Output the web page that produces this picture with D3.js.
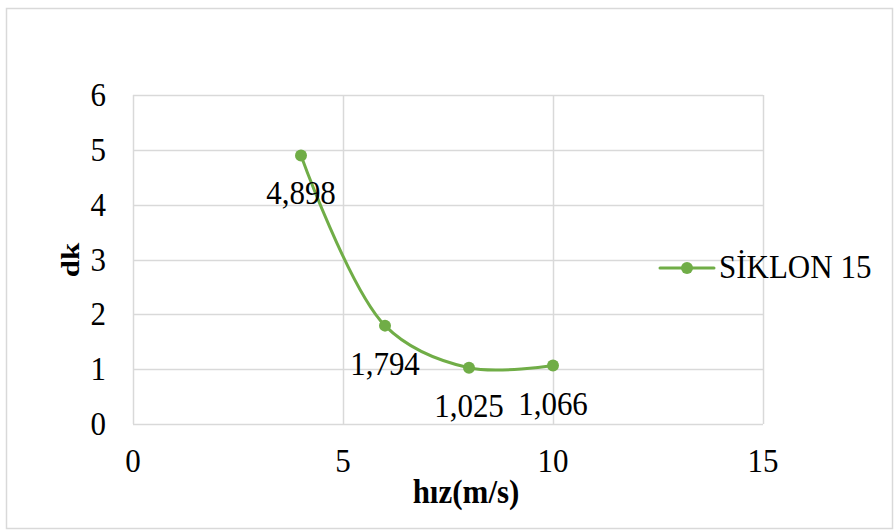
<!DOCTYPE html>
<html>
<head>
<meta charset="utf-8">
<script src="https://cdn.jsdelivr.net/npm/d3@7"></script>
<style>
  body { margin: 0; background: #fff; }
  text { font-family: "Liberation Serif", "Times New Roman", serif; }
</style>
</head>
<body>
<div id="chart"></div>
<script>
var w = 895;
var h = 531;

var speeds = [4, 6, 8, 10];
var dkValues = [4.898, 1.794, 1.025, 1.066];
var valueLabels = ["4,898", "1,794", "1,025", "1,066"];
var xTicks = [0, 5, 10, 15];
var yTicks = [0, 1, 2, 3, 4, 5, 6];
var seriesName = "SİKLON 15";

var green = "#70ad47";
var gridColor = "#d9d9d9";
var fontSize = 31;
var stretch = 1.12; // reference glyphs are a bit taller than wide

var plotLeft = 133, plotRight = 763, plotTop = 95, plotBottom = 424;

var xScale = d3.scaleLinear().domain([0, 15]).range([plotLeft, plotRight]);
var yScale = d3.scaleLinear().domain([0, 6]).range([plotBottom, plotTop]);

var svg = d3.select("#chart").append("svg").attr("width", w).attr("height", h);

function place(x, y) {
  return "translate(" + x + "," + y + ") scale(1," + stretch + ")";
}

// outer chart border
svg.append("rect")
  .attr("x", 6.5).attr("y", 8.5)
  .attr("width", 886).attr("height", 520)
  .attr("fill", "#fff")
  .attr("stroke", gridColor)
  .attr("stroke-width", 1.5);

// gridlines
svg.selectAll(".hgrid")
  .data(yTicks)
  .enter()
  .append("line")
  .attr("x1", plotLeft).attr("x2", plotRight)
  .attr("y1", function (d) { return Math.round(yScale(d)) + 0.5; })
  .attr("y2", function (d) { return Math.round(yScale(d)) + 0.5; })
  .attr("stroke", gridColor)
  .attr("stroke-width", 1.5);

svg.selectAll(".vgrid")
  .data(xTicks)
  .enter()
  .append("line")
  .attr("y1", plotTop).attr("y2", plotBottom)
  .attr("x1", function (d) { return Math.round(xScale(d)) + 0.5; })
  .attr("x2", function (d) { return Math.round(xScale(d)) + 0.5; })
  .attr("stroke", gridColor)
  .attr("stroke-width", 1.5);

// tick labels
svg.selectAll(".ylab")
  .data(yTicks)
  .enter()
  .append("text")
  .attr("transform", function (d) { return place(106, yScale(d) + 11); })
  .attr("text-anchor", "end")
  .attr("font-size", fontSize)
  .text(function (d) { return d; });

svg.selectAll(".xlab")
  .data(xTicks)
  .enter()
  .append("text")
  .attr("transform", function (d) { return place(xScale(d), 472); })
  .attr("text-anchor", "middle")
  .attr("font-size", fontSize)
  .text(function (d) { return d; });

// axis titles
svg.append("text")
  .attr("transform", place(466, 503))
  .attr("text-anchor", "middle")
  .attr("font-size", fontSize)
  .attr("font-weight", "bold")
  .text("hız(m/s)");

svg.append("text")
  .attr("transform", "translate(79,260) rotate(-90) scale(1,0.8)")
  .attr("text-anchor", "middle")
  .attr("font-size", fontSize)
  .attr("font-weight", "bold")
  .text("dk");

// series
var points = speeds.map(function (s, i) { return [s, dkValues[i]]; });

var line = d3.line()
  .x(function (d) { return xScale(d[0]); })
  .y(function (d) { return yScale(d[1]); })
  .curve(d3.curveCatmullRom.alpha(0.5));

svg.append("path")
  .datum(points)
  .attr("d", line)
  .attr("fill", "none")
  .attr("stroke", green)
  .attr("stroke-width", 3)
  .attr("stroke-linecap", "round");

svg.selectAll(".dot")
  .data(points)
  .enter()
  .append("circle")
  .attr("cx", function (d) { return xScale(d[0]); })
  .attr("cy", function (d) { return yScale(d[1]); })
  .attr("r", 6)
  .attr("fill", green);

svg.selectAll(".vlab")
  .data(points)
  .enter()
  .append("text")
  .attr("transform", function (d) { return place(xScale(d[0]), yScale(d[1]) + 49); })
  .attr("text-anchor", "middle")
  .attr("font-size", fontSize)
  .text(function (d, i) { return valueLabels[i]; });

// legend
var legend = svg.append("g").attr("transform", "translate(660,268)");
legend.append("line")
  .attr("x1", 0).attr("x2", 54)
  .attr("y1", 0).attr("y2", 0)
  .attr("stroke", green)
  .attr("stroke-width", 3)
  .attr("stroke-linecap", "round");
legend.append("circle")
  .attr("cx", 27).attr("cy", 0).attr("r", 6)
  .attr("fill", green);
legend.append("text")
  .attr("transform", place(59, 10))
  .attr("font-size", fontSize)
  .text(seriesName);
</script>
</body>
</html>
